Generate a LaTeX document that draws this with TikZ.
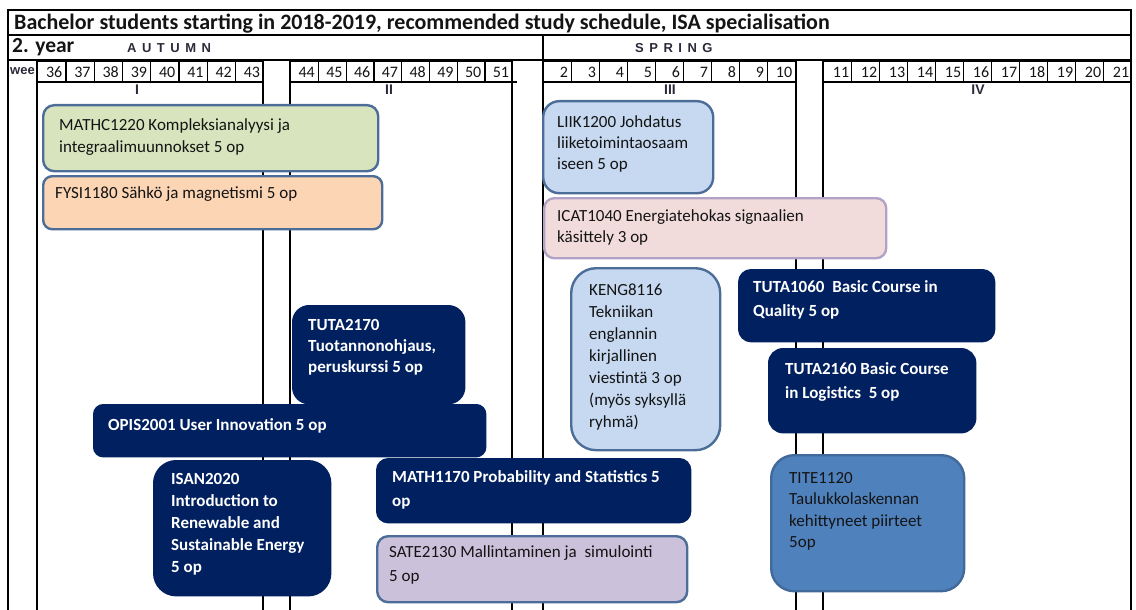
\documentclass[tikz,border=0pt]{standalone}
\usepackage{fontspec}
\setmainfont{Carlito}
\newfontfamily\arialfont{Liberation Sans}

\definecolor{navy}{HTML}{002060}
\definecolor{steel}{HTML}{4D6D99}
\definecolor{paleblue}{HTML}{C6D9F1}
\definecolor{palegreen}{HTML}{D7E4BD}
\definecolor{peach}{HTML}{FCD5B5}
\definecolor{blush}{HTML}{F2DCDB}
\definecolor{lilacline}{HTML}{B3A2C7}
\definecolor{lilac}{HTML}{CCC1DA}
\definecolor{midblue}{HTML}{4F81BD}
\definecolor{midblueline}{HTML}{41699A}
\definecolor{ink}{HTML}{141414}
\definecolor{labelink}{HTML}{2A2A3A}

% letter gap for the season headings
\newcommand\ls{\hspace{5.5pt}}
% course box: name, style, x1, y1, x2, y2, corner radius, text options, text
\newcommand\course[9]{%
  \node[#2, rounded corners=#7pt, minimum width={(#5-#3)*1pt}, minimum height={(#6-#4)*1pt}] (#1) at (#3,#4) {};
  \node[#8] (#1-txt) at (#1.north west) {#9};
}

\tikzset{
  frame/.style={line width=1.4pt, black},
  rule/.style={line width=1.3pt, black},
  weekcell/.style={draw, line width=1.3pt, anchor=north west, minimum height=21pt, inner sep=0pt},
  wnum/.style={font=\fontsize{16}{16}\selectfont, inner sep=0pt, anchor=base east, text=ink},
  period/.style={font=\arialfont\bfseries\fontsize{14}{14}\selectfont, inner sep=0pt, anchor=base, text=labelink},
  season/.style={font=\arialfont\bfseries\fontsize{13}{13}\selectfont, inner sep=0pt, anchor=base west, text=labelink},
  coursebox/.style={anchor=north west, inner sep=0pt, line width=2.4pt},
  navybox/.style={coursebox, fill=navy, draw=navy},
  greenbox/.style={coursebox, fill=palegreen, draw=steel},
  peachbox/.style={coursebox, fill=peach, draw=steel},
  bluebox/.style={coursebox, fill=paleblue, draw=steel},
  pinkbox/.style={coursebox, fill=blush, draw=lilacline},
  lilacbox/.style={coursebox, fill=lilac, draw=steel},
  midbox/.style={coursebox, fill=midblue, draw=midblueline},
  ctext/.style={font=\fontsize{17}{#1}\selectfont, text=ink, inner sep=0pt, anchor=north west, align=left, execute at begin node=\rule{0pt}{13pt}},
  ctext/.default=22,
  ntext/.style={font=\bfseries\fontsize{17}{#1}\selectfont, text=white, inner sep=0pt, anchor=north west, align=left, execute at begin node=\rule{0pt}{13pt}},
  ntext/.default=22,
}

\begin{document}
\begin{tikzpicture}[x=1pt, y=-1pt]
\useasboundingbox (0,0) rectangle (1136,610);

% outer frame and header rows
\draw[frame] (8,610) -- (8,10) -- (1131,10) -- (1131,610);
\draw[rule] (8,35) -- (1131,35);
\draw[rule] (8,60) -- (1131,60);
\draw[rule] (543,35) -- (543,610);

% period columns
\foreach \x in {37,263,290,512,796,823} \draw[rule] (\x,61) -- (\x,610);
\draw[rule] (37,82) -- (263,82);
\draw[rule] (290,82) -- (517,82);
\draw[rule] (543,82) -- (797,82);
\draw[rule] (823,82) -- (1131,82);

% header texts
\node[anchor=base west, inner sep=0pt, text=ink, font=\bfseries\fontsize{22}{22}\selectfont] (title) at (14,29.5)
  {Bachelor students starting in 2018-2019, recommended study schedule, ISA specialisation};
\node[anchor=base west, inner sep=0pt, text=ink, font=\bfseries\fontsize{21.5}{21.5}\selectfont] (year) at (12,53) {2. year};
\node[season] (autumn) at (127,53) {A\ls U\ls T\ls U\ls M\ls N};
\node[season] (spring) at (635,53) {S\ls P\ls R\ls I\ls N\ls G};
\node[anchor=base west, inner sep=0pt, text=labelink, font=\arialfont\bfseries\fontsize{13}{13}\selectfont] (weeklabel) at (10,75) {wee};

% week cells
\foreach \w [count=\i from 0] in {36,...,43} {
  \node[weekcell, minimum width=28.25pt] (w\w) at ({37+28.25*\i},61) {};
  \node[wnum] at ([xshift=-4pt,yshift=6pt]w\w.south east) {\w};
}
\foreach \w [count=\i from 0] in {44,...,51} {
  \node[weekcell, minimum width=27.75pt] (w\w) at ({290+27.75*\i},61) {};
  \node[wnum] at ([xshift=-4pt,yshift=6pt]w\w.south east) {\w};
}
\foreach \w [count=\i from 0] in {2,...,10} {
  \node[weekcell, minimum width=28pt] (w\w) at ({543+28*\i},61) {};
  \node[wnum] at ([xshift=-4pt,yshift=6pt]w\w.south east) {\w};
}
\foreach \w [count=\i from 0] in {11,...,21} {
  \node[weekcell, minimum width=28pt] (w\w) at ({823+28*\i},61) {};
  \node[wnum] at ([xshift=-3pt,yshift=6pt]w\w.south east) {\w};
}

% period labels
\node[period] (pI) at (137,95) {I};
\node[period] (pII) at (389,95) {II};
\node[period] (pIII) at (670,95) {III};
\node[period] (pIV) at (978,95) {IV};

% courses
\course{mathc}{greenbox}{42}{104}{377}{170}{11}{ctext, xshift=17pt, yshift=-14pt}
  {MATHC1220 Kompleksianalyysi ja\\integraalimuunnokset 5 op}
\course{fysi}{peachbox}{42}{175}{381}{228}{9}{ctext, xshift=13pt, yshift=-10pt}
  {FYSI1180 Sähkö ja magnetismi 5 op}
\course{liik}{bluebox}{542}{100}{712}{192}{16}{ctext=21, xshift=15pt, yshift=-15pt}
  {LIIK1200 Johdatus\\liiketoimintaosaam\\iseen 5 op}
\course{icat}{pinkbox}{543}{197}{885}{257}{10}{ctext=20.5, xshift=14pt, yshift=-12.5pt}
  {ICAT1040 Energiatehokas signaalien\\käsittely 3 op}
\course{keng}{bluebox}{570}{267}{719}{449}{25}{ctext, xshift=19pt, yshift=-17pt}
  {KENG8116\\Tekniikan\\englannin\\kirjallinen\\viestintä 3 op\\(myös syksyllä\\ryhmä)}
\course{tuta1060}{navybox}{738}{269}{993}{340}{12}{ntext=24, xshift=15pt, yshift=-11.5pt}
  {TUTA1060~ Basic Course in\\Quality 5 op}
\course{tuta2170}{navybox}{292}{305}{463}{402}{16}{ntext=21, xshift=16pt, yshift=-14.5pt}
  {TUTA2170\\Tuotannonohjaus,\\peruskurssi 5 op}
\course{tuta2160}{navybox}{768}{348}{974}{431}{14}{ntext=24, xshift=17pt, yshift=-14pt}
  {TUTA2160 Basic Course\\in Logistics~ 5 op}
\course{opis}{navybox}{93}{404}{484}{455}{9}{ntext, xshift=15pt, yshift=-13pt}
  {OPIS2001 User Innovation 5 op}
\course{isan}{navybox}{153}{460}{329}{594}{22}{ntext, xshift=18pt, yshift=-13pt}
  {ISAN2020\\Introduction to\\Renewable and\\Sustainable Energy\\5 op}
\course{math}{navybox}{376}{458}{689}{521}{11}{ntext=24, xshift=16pt, yshift=-12pt}
  {MATH1170 Probability and Statistics 5\\op}
\course{sate}{lilacbox}{376}{535}{686}{601}{11}{ctext=24, xshift=13pt, yshift=-10pt}
  {SATE2130 Mallintaminen ja~ simulointi\\5 op}
\course{tite}{midbox}{770}{454}{963}{590}{23}{ctext=21.5, xshift=19pt, yshift=-18pt}
  {TITE1120\\Taulukkolaskennan\\kehittyneet piirteet\\5op}
\end{tikzpicture}
\end{document}
